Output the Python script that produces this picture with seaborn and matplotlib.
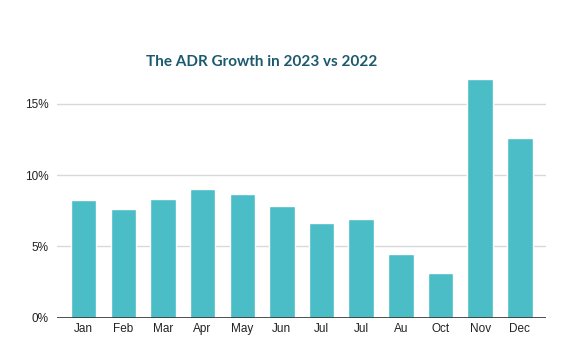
import matplotlib
matplotlib.use("Agg")
import matplotlib.pyplot as plt
import matplotlib.ticker as mticker
import numpy as np
import seaborn as sns

# -- Data ----------------------------------------------------------------------
MONTHS = ["Jan", "Feb", "Mar", "Apr", "May", "Jun", "Jul", "Jul", "Au", "Oct", "Nov", "Dec"]
ADR_GROWTH = [8.25, 7.6, 8.3, 9.0, 8.65, 7.8, 6.65, 6.9, 4.45, 3.15, 16.7, 12.6]

BAR_COLOR = "#4abdc7"
TITLE_COLOR = "#1b5a6e"

sns.set_theme(style="white")
plt.rcParams["font.family"] = ["Liberation Sans", "DejaVu Sans"]

fig = plt.figure(figsize=(5.71, 3.56), dpi=100)
ax = fig.add_axes([57 / 571, 1 - 317.7 / 356, (546 - 57) / 571, (317.7 - 79) / 356])

positions = np.arange(len(MONTHS))
sns.barplot(x=positions, y=ADR_GROWTH, color=BAR_COLOR, width=0.64,
            saturation=1, ax=ax, zorder=3)

ax.set_xlim(-0.67, 11.66)
ax.set_ylim(0, 16.73)
ax.set_xticks(positions)
ax.set_xticklabels(MONTHS)
ax.set_yticks([0, 5, 10, 15])
ax.yaxis.set_major_formatter(mticker.FuncFormatter(lambda v, _: f"{v:.0f}%"))
ax.grid(axis="y", color="#d9d9d9", linewidth=1, zorder=0)
ax.axhline(0, color="#333333", linewidth=1.2, zorder=4)
for s in ax.spines.values():
    s.set_visible(False)
ax.tick_params(axis="both", length=0, labelsize=8.5, colors="#222222")
ax.tick_params(axis="x", pad=4)
ax.tick_params(axis="y", pad=6)
ax.set_xlabel("")
ax.set_ylabel("")

fig.text(262 / 571, 1 - 62 / 356, "The ADR Growth in 2023 vs 2022", ha="center", va="center",
         fontsize=11, fontweight="bold", color=TITLE_COLOR, family=["Lato", "DejaVu Sans"])

fig.savefig("out.png", dpi=100)
